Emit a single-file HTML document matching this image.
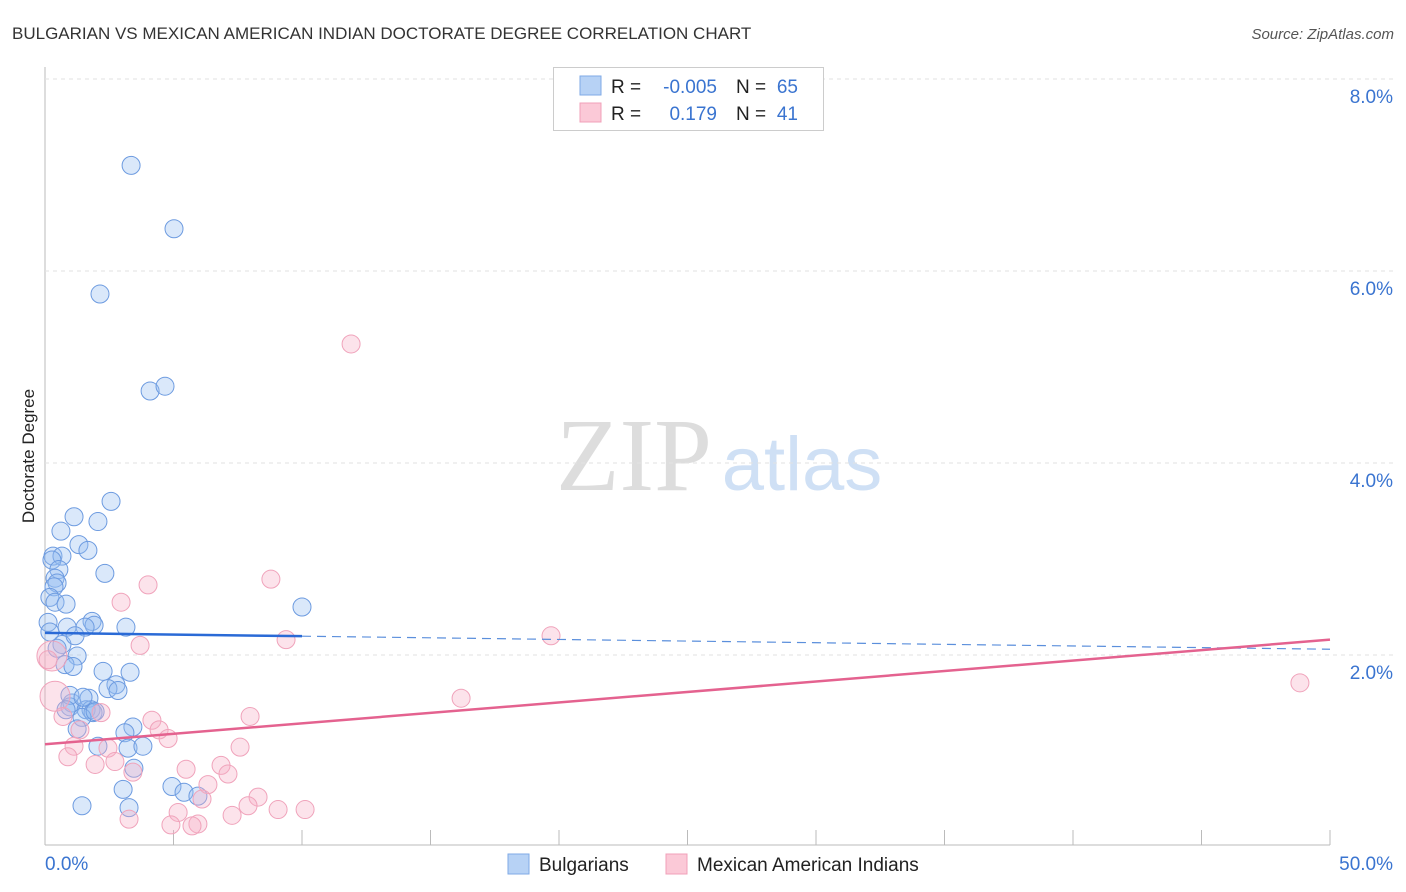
<!DOCTYPE html>
<html><head><meta charset="utf-8"><style>
body{margin:0;background:#fff;font-family:"Liberation Sans",sans-serif;}
#wrap{position:relative;width:1406px;height:892px;overflow:hidden}
</style></head><body>
<div id="wrap">
<svg id="svg" width="1406" height="892" xmlns="http://www.w3.org/2000/svg">
<text x="12" y="39" font-size="17" fill="#333">BULGARIAN VS MEXICAN AMERICAN INDIAN DOCTORATE DEGREE CORRELATION CHART</text>
<text x="1394" y="39" font-size="15" fill="#555" font-style="italic" text-anchor="end">Source: ZipAtlas.com</text>
<text x="34" y="456" font-size="17" fill="#222" text-anchor="middle" transform="rotate(-90 34 456)">Doctorate Degree</text>
<g><text x="634" y="490" font-family="Liberation Serif,serif" font-size="104" fill="#ddd" text-anchor="middle">ZIP</text><text x="802" y="490" font-size="76" fill="#cfe0f5" text-anchor="middle">atlas</text></g>
<g id="grid"></g><g id="marks"></g><g id="trend"></g>
<g>
<rect x="553.5" y="67.5" width="270" height="63" fill="#fff" stroke="#ccc"/>
<rect x="580" y="76" width="21" height="19" fill="#b7d2f5" stroke="#7faae6"/>
<rect x="580" y="103" width="21" height="19" fill="#fbc9d7" stroke="#f0a0b8"/>
<text x="611" y="93" font-size="19" fill="#222">R = </text><text x="717" y="93" font-size="19" fill="#3a74d0" text-anchor="end">-0.005</text>
<text x="736" y="93" font-size="19" fill="#222">N = </text><text x="798" y="93" font-size="19" fill="#3a74d0" text-anchor="end">65</text>
<text x="611" y="120" font-size="19" fill="#222">R = </text><text x="717" y="120" font-size="19" fill="#3a74d0" text-anchor="end">0.179</text>
<text x="736" y="120" font-size="19" fill="#222">N = </text><text x="798" y="120" font-size="19" fill="#3a74d0" text-anchor="end">41</text>
</g>
<g>
<rect x="508" y="854" width="21" height="20" fill="#b7d2f5" stroke="#7faae6"/>
<text x="539" y="871" font-size="19" fill="#222">Bulgarians</text>
<rect x="666" y="854" width="21" height="20" fill="#fbc9d7" stroke="#f0a0b8"/>
<text x="697" y="871" font-size="19" fill="#222">Mexican American Indians</text>
</g>
</svg></div>
<script>
const yTicks=[2,4,6,8];
const yTickLabels=["2.0%","4.0%","6.0%","8.0%"];
const xTicks=[0,5,10,15,20,25,30,35,40,45,50];
const xEndLabels=["0.0%","50.0%"];
const bulX=[3.35,5.02,2.14,4.09,4.67,2.57,1.13,2.06,0.62,1.32,1.67,0.31,0.66,0.27,0.54,2.33,0.39,0.47,0.35,0.19,0.39,0.82,10.0,0.12,0.86,1.83,1.91,1.56,3.15,0.66,1.17,1.25,0.78,1.09,2.26,3.31,2.76,2.45,2.84,1.05,1.71,0.97,1.60,1.79,1.87,1.44,1.25,3.42,3.11,2.06,3.23,3.81,3.46,3.04,4.94,5.41,5.95,3.27,1.44,0.19,0.47,0.97,1.48,0.82,1.95];
const bulY=[7.10,6.44,5.76,4.75,4.80,3.60,3.44,3.39,3.29,3.15,3.09,3.03,3.03,2.99,2.89,2.85,2.80,2.75,2.71,2.60,2.55,2.53,2.50,2.34,2.29,2.35,2.31,2.29,2.29,2.11,2.20,1.99,1.90,1.88,1.83,1.82,1.69,1.65,1.63,1.50,1.55,1.46,1.43,1.43,1.40,1.35,1.23,1.25,1.19,1.05,1.03,1.05,0.82,0.60,0.63,0.57,0.53,0.41,0.43,2.24,2.07,1.58,1.56,1.43,1.41];
const mexX=[11.91,8.79,4.01,2.96,19.69,3.70,9.38,0.27,0.12,0.39,16.19,48.83,2.18,0.70,4.16,7.98,4.44,4.79,1.36,2.45,1.13,7.59,0.89,1.95,2.72,5.49,6.85,7.12,3.42,6.34,8.29,6.11,5.18,7.90,9.07,10.12,7.28,3.27,4.90,5.95,5.72];
const mexY=[5.24,2.79,2.73,2.55,2.20,2.10,2.16,1.99,1.95,1.57,1.55,1.71,1.40,1.36,1.32,1.36,1.22,1.13,1.22,1.03,1.05,1.04,0.94,0.86,0.89,0.81,0.85,0.76,0.78,0.65,0.52,0.50,0.36,0.43,0.39,0.39,0.33,0.29,0.23,0.24,0.22];
const mexBig=[0,0,0,0,0,0,0,1,0,1];
const bulTrend=[2.23,2.06];
const mexTrend=[1.07,2.16];
const X0=45,X1=1330,Y0=847,PX=96;
const sx=v=>X0+(v/50)*(X1-X0), sy=v=>Y0-v*PX;
const NS="http://www.w3.org/2000/svg";
function mk(p,t,a){const e=document.createElementNS(NS,t);for(const k in a)e.setAttribute(k,a[k]);p.appendChild(e);return e;}
const grid=document.getElementById('grid'),marks=document.getElementById('marks'),trend=document.getElementById('trend');
let ax=mk(grid,'line',{x1:45,y1:67,x2:45,y2:845,stroke:'#bbb'});


let bx=mk(grid,'line',{x1:45,y1:845,x2:1330,y2:845,stroke:'#bbb'});


yTicks.forEach((v,i)=>{
 const l=mk(grid,'line',{x1:45,x2:1394,y1:sy(v),y2:sy(v),stroke:'#e2e2e2','stroke-dasharray':'4,4'});
 
 
 const t=mk(grid,'text',{x:1393,y:sy(v)+24,'font-size':19,fill:'#3a74d0','text-anchor':'end'});t.textContent=yTickLabels[i];
 
 
});
xTicks.forEach(v=>{
 const l=mk(grid,'line',{x1:sx(v),x2:sx(v),y1:830,y2:845,stroke:'#bbb'});
 
 
});
[[0,'start',45],[50,'end',1393]].forEach((d,i)=>{
 const t=mk(grid,'text',{x:d[2],y:870,'font-size':19,fill:'#3a74d0','text-anchor':d[1]});t.textContent=xEndLabels[i];
 
 
});
bulX.forEach((v,i)=>{
 const c=mk(marks,'circle',{cx:sx(v),cy:sy(bulY[i]),r:9,fill:'rgba(150,190,240,0.35)',stroke:'#6d9be0','stroke-width':1});
 
 
});
mexX.forEach((v,i)=>{
 const c=mk(marks,'circle',{cx:sx(v),cy:sy(mexY[i]),r:mexBig[i]?15:9,fill:'rgba(246,175,198,0.35)',stroke:'#f0a3bb','stroke-width':1});
 
 
});
const bMid=bulTrend[0]+(bulTrend[1]-bulTrend[0])*10/50;
let t1=mk(trend,'line',{x1:sx(0),y1:sy(bulTrend[0]),x2:sx(10),y2:sy(bMid),stroke:'#2a6ad6','stroke-width':2.5});


let t2=mk(trend,'line',{x1:sx(10),y1:sy(bMid),x2:sx(50),y2:sy(bulTrend[1]),stroke:'#5b8fdc','stroke-width':1.2,'stroke-dasharray':'9,6'});


let t3=mk(trend,'line',{x1:sx(0),y1:sy(mexTrend[0]),x2:sx(50),y2:sy(mexTrend[1]),stroke:'#e4628f','stroke-width':2.5});


</script></body></html>
